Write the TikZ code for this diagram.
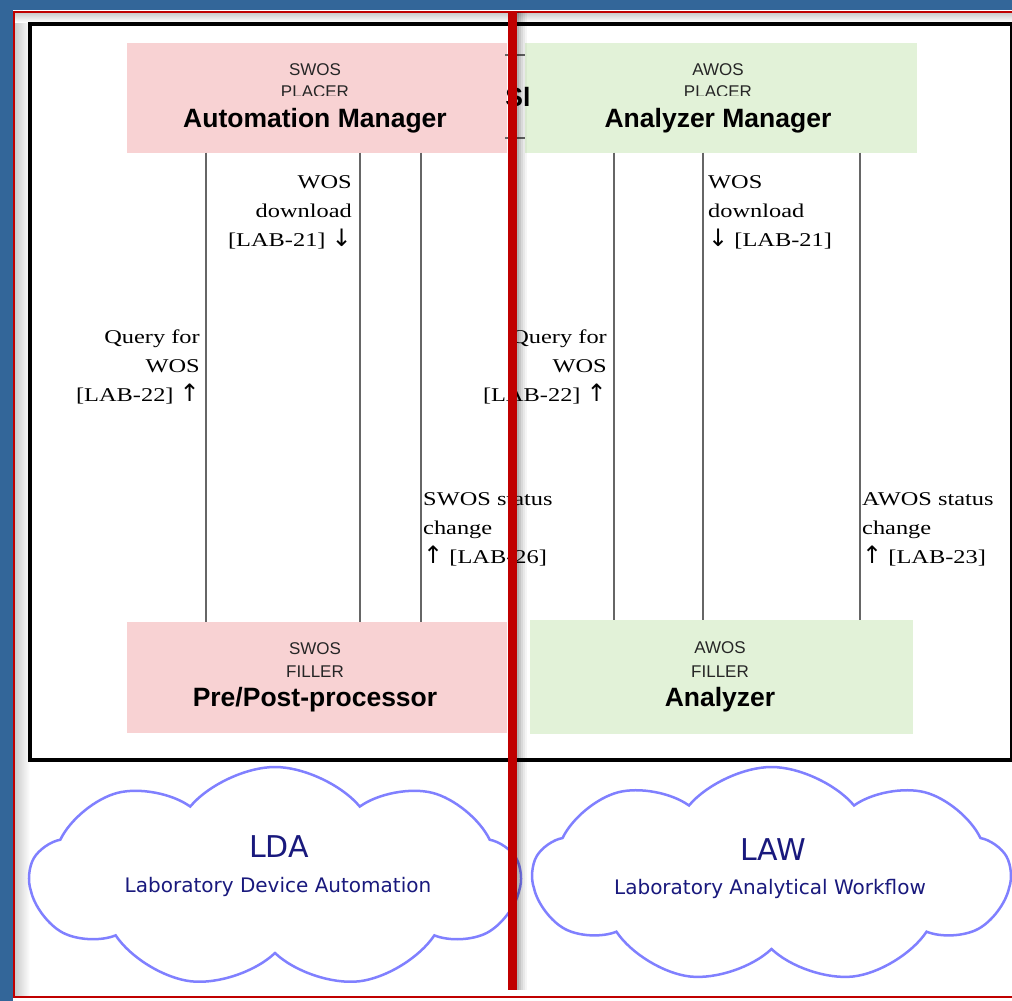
\documentclass[tikz,border=0pt]{standalone}
\usepackage{fontspec}
\setmainfont{Liberation Serif}
\newfontfamily\boxfont{Liberation Sans}
\newfontfamily\lblfont[FakeStretch=1.25]{Liberation Serif}
\newfontfamily\cloudfont{DejaVu Sans}
\newfontfamily\arrfont{DejaVu Sans}
\newcommand\upar{{\arrfont\fontsize{24}{29}\selectfont ↑}}
\newcommand\dnar{{\arrfont\fontsize{24}{29}\selectfont ↓}}
\usetikzlibrary{shapes.symbols,positioning}
\definecolor{pageblue}{RGB}{51,102,153}
\definecolor{framered}{RGB}{192,0,0}
\definecolor{swospink}{RGB}{248,210,211}
\definecolor{awosgreen}{RGB}{226,242,216}
\definecolor{cloudblue}{RGB}{128,128,255}
\definecolor{cloudtext}{RGB}{25,25,125}

\begin{document}
\begin{tikzpicture}[x=1pt, y=-1pt,
  sysbox/.style={inner sep=0pt, minimum height=110pt},
  small/.style={font=\boxfont\fontsize{17}{18}\selectfont, text=black!85, anchor=base},
  big/.style={font=\boxfont\bfseries\fontsize{26.5}{28}\selectfont, anchor=base, inner sep=0pt},
  wire/.style={draw=black!60, line width=1.5pt},
  msg/.style={font=\lblfont\fontsize{19.5}{29}\selectfont, inner sep=0pt},
  lab/.style={cloud, cloud puffs=9, cloud puff arc=100, aspect=2.2, draw=cloudblue,
    line width=2.5pt, fill=white, inner sep=0pt},
  labtext/.style={font=\cloudfont\fontsize{20}{24}\selectfont, text=cloudtext, anchor=base}]
\useasboundingbox (0,0) rectangle (1012,1001);
\fill[pageblue] (0,0) rectangle (1012,1001);
\fill[white] (12.5,10) rectangle (1012,1001);
\shade[left color=black!20, right color=white] (15,13) rectangle (30,997);
\shade[top color=black!20, bottom color=white] (15,13) rectangle (1012,22);
\draw[framered, line width=2.5pt] (14,12) rectangle (1014,997);
\draw[line width=4pt] (29.5,23.5) rectangle (1012,760);

\node[sysbox, fill=swospink, minimum width=380pt] (amgr) at (317,97.5) {};
\node[sysbox, fill=awosgreen, minimum width=392pt] (anmgr) at (721,97.5) {};
\node[sysbox, fill=swospink, minimum width=380pt, minimum height=111pt] (prep) at (317,677.5) {};
\node[sysbox, fill=awosgreen, minimum width=383pt, minimum height=114pt] (anlz) at (721.5,677) {};

\node[small] (amgr1) at (315,75) {SWOS};
\node[small] (amgr2) at (315,97) {PLACER};
\node[big, fill=swospink, text height=31pt, text depth=6pt] (amgr3) at (315,127) {Automation Manager};
\node[small] (anmgr1) at (718,75) {AWOS};
\node[small] (anmgr2) at (718,97) {PLACER};
\node[big, fill=awosgreen, text height=31pt, text depth=6pt] (anmgr3) at (718,127) {Analyzer Manager};
\node[small] (prep1) at (315,654) {SWOS};
\node[small] (prep2) at (315,677) {FILLER};
\node[big] (prep3) at (315,706) {Pre/Post-processor};
\node[small] (anlz1) at (720,653) {AWOS};
\node[small] (anlz2) at (720,677) {FILLER};
\node[big] (anlz3) at (720,706) {Analyzer};

\draw[wire] (505,55) -- (525,55) (505,138) -- (525,138);
\node[big] (hid) at (518,106) {Sl};

\foreach \x in {206,360,421}
  \draw[wire] (amgr.south -| \x,0) -- (prep.north -| \x,0);
\foreach \x in {614,703,860}
  \draw[wire] (anmgr.south -| \x,0) -- (anlz.north -| \x,0);

\node[msg, anchor=north east, align=right] (dl1) at (352,175) {WOS\\download\\{}[LAB-21] \dnar};
\node[msg, anchor=north east, align=right] (qry1) at (200,330) {Query for\\WOS\\{}[LAB-22] \upar};
\node[msg, anchor=north west, align=left] (st1) at (423,492) {SWOS status\\change\\\upar{} [LAB-26]};
\node[msg, anchor=north west, align=left] (dl2) at (708,175) {WOS\\download\\\dnar{} [LAB-21]};
\node[msg, anchor=north east, align=right] (qry2) at (607,330) {Query for\\WOS\\{}[LAB-22] \upar};
\node[msg, anchor=north west, align=left] (st2) at (862,492) {AWOS status\\change\\\upar{} [LAB-23]};

\node[lab, minimum width=490pt, minimum height=221pt] (lda) at (275,877.5) {};
\node[lab, minimum width=477pt, minimum height=216pt] (law) at (771.5,875) {};
\node[labtext, font=\cloudfont\fontsize{30}{34}\selectfont] (lda1) at (279,857) {LDA};
\node[labtext] (lda2) at (278,892) {Laboratory Device Automation};
\node[labtext, font=\cloudfont\fontsize{30}{34}\selectfont] (law1) at (773,860) {LAW};
\node[labtext] (law2) at (770,894) {Laboratory Analytical Workflow};

\foreach \i/\o in {0/.30,1/.22,2/.15,3/.09,4/.04}
  \fill[black, opacity=\o] (517+2*\i,12) rectangle (519+2*\i,990);
\draw[framered, line width=8.5pt] (512.5,12) -- (512.5,990);
\end{tikzpicture}
\end{document}
